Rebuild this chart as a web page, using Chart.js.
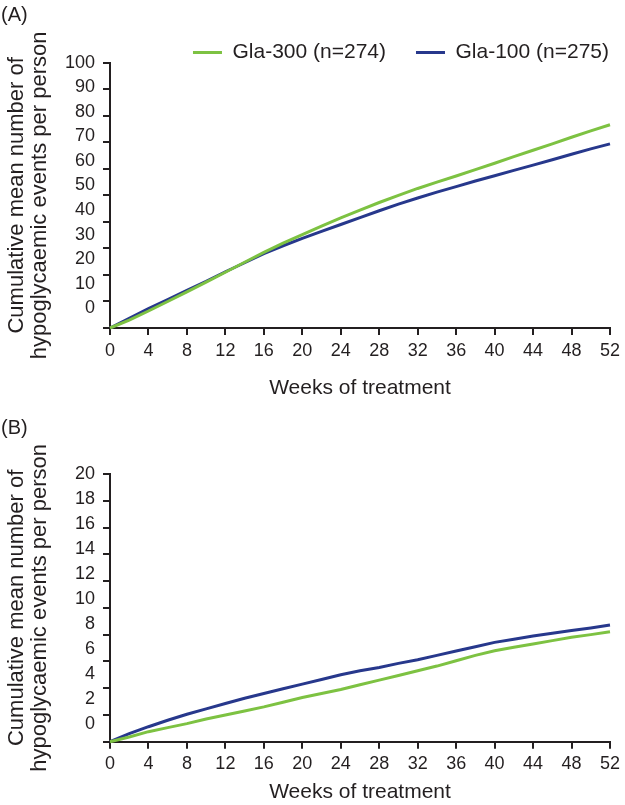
<!DOCTYPE html>
<html lang="en">
<head>
  <meta charset="UTF-8">
  <title>Cumulative hypoglycaemic events</title>
  <script src="https://cdn.jsdelivr.net/npm/chart.js@4.4.7/dist/chart.umd.min.js"></script>
  <style>
    * { margin: 0; padding: 0; box-sizing: border-box; }
    body {
      width: 625px;
      height: 805px;
      background: #fff;
      position: relative;
      overflow: hidden;
      font-family: 'Liberation Sans', Arial, sans-serif;
      color: #231f20;
    }
    .panel { position: absolute; left: 0; width: 625px; }
    #panelA { top: 0; height: 405px; }
    #panelB { top: 405px; height: 400px; }
    .tag { position: absolute; left: 1px; font-size: 20px; line-height: 23px; }
  </style>
</head>
<body>
  <div class="panel" id="panelA">
    <canvas id="chartA"></canvas>
    <div class="tag" style="top: 3px;">(A)</div>
  </div>
  <div class="panel" id="panelB">
    <canvas id="chartB"></canvas>
    <div class="tag" style="top: 11px;">(B)</div>
  </div>

  <script>
    // weeks of treatment
    const weeks = [0, 2, 4, 6, 8, 10, 12, 14, 16, 18, 20, 22, 24, 26, 28, 30, 32, 34, 36, 38, 40, 42, 44, 46, 48, 50, 52];

    // (A) cumulative mean events per person
    const gla300A = [0, 3.0, 6.4, 10.0, 13.6, 17.3, 21.0, 24.8, 28.5, 32.0, 35.2, 38.4, 41.5, 44.4, 47.3, 50.0, 52.6, 55.0, 57.3, 59.7, 62.1, 64.6, 67.0, 69.4, 71.9, 74.3, 76.6];
    const gla100A = [0, 3.6, 7.3, 10.7, 14.2, 17.6, 21.2, 24.6, 28.0, 31.0, 33.8, 36.4, 39.0, 41.6, 44.2, 46.7, 49.0, 51.2, 53.3, 55.4, 57.4, 59.4, 61.4, 63.4, 65.5, 67.5, 69.4];

    // (B)
    const gla300B = [0, 0.35, 0.75, 1.05, 1.35, 1.7, 2.0, 2.3, 2.6, 2.95, 3.3, 3.6, 3.9, 4.25, 4.6, 4.95, 5.3, 5.65, 6.05, 6.45, 6.8, 7.05, 7.3, 7.55, 7.8, 8.0, 8.22];
    const gla100B = [0, 0.6, 1.12, 1.6, 2.05, 2.45, 2.85, 3.25, 3.6, 3.95, 4.3, 4.65, 5.0, 5.3, 5.55, 5.85, 6.12, 6.45, 6.78, 7.1, 7.42, 7.65, 7.9, 8.1, 8.3, 8.5, 8.72];

    // tick labels
    const weekTicks = [0, 4, 8, 12, 16, 20, 24, 28, 32, 36, 40, 44, 48, 52];
    const yTicksA = [0, 10, 20, 30, 40, 50, 60, 70, 80, 90, 100];
    const yTicksB = [0, 2, 4, 6, 8, 10, 12, 14, 16, 18, 20];

    const seriesNames = ['Gla-300 (n=274)', 'Gla-100 (n=275)'];
    const seriesColors = ['#7dc242', '#27388c'];
    const yTitle = ['Cumulative mean number of', 'hypoglycaemic events per person'];
    const xTitle = 'Weeks of treatment';

    const ink = '#231f20';
    Chart.defaults.font.family = "'Liberation Sans', Arial, sans-serif";
    Chart.defaults.color = ink;

    const points = ys => weeks.map((w, i) => ({ x: w, y: ys[i] }));
    const setTicks = list => scale => { scale.ticks = list.map(v => ({ value: v })); };

    function buildChart(id, series, yTicks, labelMin, cfg) {
      const yMax = yTicks[yTicks.length - 1];
      return new Chart(document.getElementById(id), {
        type: 'line',
        data: {
          datasets: series.map((ys, i) => ({
            label: seriesNames[i],
            data: points(ys),
            xAxisID: 'x',
            yAxisID: 'y',
            borderColor: seriesColors[i],
            backgroundColor: seriesColors[i],
            borderWidth: 3,
            pointRadius: 0,
            pointStyle: 'line',
            tension: 0,
            clip: false
          }))
        },
        options: {
          responsive: true,
          maintainAspectRatio: false,
          animation: false,
          layout: { padding: cfg.padding },
          plugins: {
            legend: {
              display: cfg.legend,
              align: 'end',
              maxHeight: 50.7,
              labels: {
                usePointStyle: true,
                pointStyleWidth: 29,
                font: { size: 21 },
                padding: 30,
                color: ink
              }
            },
            tooltip: { enabled: false }
          },
          scales: {
            x: {
              type: 'linear',
              min: 0,
              max: 52,
              afterBuildTicks: setTicks(weekTicks),
              afterFit: s => { s.height = cfg.xHeight; },
              grid: { drawOnChartArea: false, drawTicks: true, tickLength: 7, lineWidth: 2, color: ink },
              border: { display: true, width: 2, color: ink },
              ticks: { font: { size: 18 }, padding: 5, color: ink, maxRotation: 0, autoSkip: false },
              title: {
                display: true,
                text: xTitle,
                font: { size: 21 },
                color: ink,
                padding: { top: 0, bottom: cfg.xTitlePad }
              }
            },
            y: {
              type: 'linear',
              position: 'left',
              weight: 0,
              min: 0,
              max: yMax,
              afterBuildTicks: setTicks(yTicks),
              afterFit: s => { s.width = 7; },
              grid: { drawOnChartArea: false, drawTicks: true, tickLength: 7, lineWidth: 2, color: ink },
              border: { display: true, width: 2, color: ink },
              ticks: { display: false }
            },
            // label column, spaced as printed in the source figure
            yl: {
              type: 'linear',
              axis: 'y',
              position: 'left',
              weight: 1,
              min: labelMin,
              max: yMax,
              afterBuildTicks: setTicks(yTicks),
              afterFit: s => { s.width = 103; },
              grid: { display: false, drawTicks: false },
              border: { display: false },
              ticks: { font: { size: 18 }, padding: 8, color: ink },
              title: {
                display: true,
                text: yTitle,
                font: { size: 22, lineHeight: 1.05 },
                color: ink,
                padding: { top: 5, bottom: 0 }
              }
            }
          }
        }
      });
    }

    buildChart('chartA', [gla300A, gla100A], yTicksA, -8, {
      legend: true,
      padding: { top: 12, right: -14, bottom: 0, left: 0 },
      xHeight: 77,
      xTitlePad: 4.4
    });

    buildChart('chartB', [gla300B, gla100B], yTicksB, -1.42, {
      legend: false,
      padding: { top: 69, right: 0, bottom: 0, left: 0 },
      xHeight: 63.3,
      xTitlePad: 0.4
    });
  </script>
</body>
</html>
